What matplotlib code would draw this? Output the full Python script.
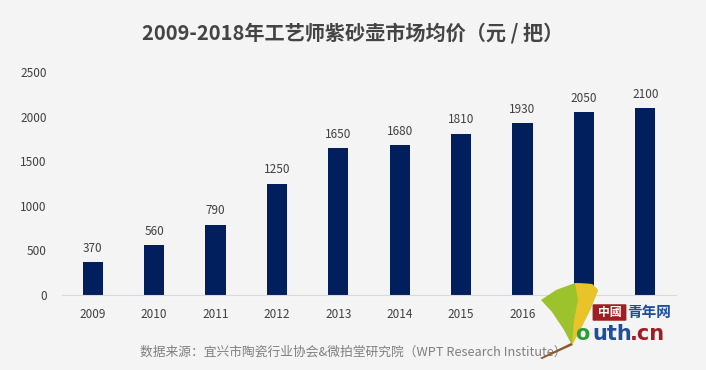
import matplotlib.pyplot as plt
from matplotlib.patches import Polygon, FancyBboxPatch
import numpy as np

plt.rcParams['font.family'] = ['Noto Sans CJK SC', 'DejaVu Sans']

# data
years = ['2009', '2010', '2011', '2012', '2013', '2014', '2015', '2016', '2017', '2018']
prices = [370, 560, 790, 1250, 1650, 1680, 1810, 1930, 2050, 2100]
yticks = [0, 500, 1000, 1500, 2000, 2500]

bg = '#f4f4f4'
navy = '#001f5c'
txt = '#404040'

fig = plt.figure(figsize=(7.06, 3.70), dpi=100, facecolor=bg)
ax = fig.add_axes([62 / 706, 75 / 370, 614 / 706, 223 / 370])
ax.set_facecolor(bg)

x = np.arange(len(years))
ax.bar(x, prices, width=0.33, color=navy, zorder=2)
for xi, v in zip(x, prices):
    ax.text(xi, v + 80, str(v), ha='center', va='bottom', fontsize=8.5, color=txt)

ax.set_xlim(-0.5, len(years) - 0.5)
ax.set_ylim(0, 2500)
ax.set_xticks(x)
ax.set_xticklabels(years, fontsize=8.5, color=txt)
ax.set_yticks(yticks)
ax.set_yticklabels([str(t) for t in yticks], fontsize=8.5, color=txt)
ax.tick_params(length=0, pad=9)
ax.tick_params(axis='y', pad=11)
for s in ['top', 'right', 'left']:
    ax.spines[s].set_visible(False)
ax.spines['bottom'].set_color('#d9d9d9')

fig.text(0.5, 1 - 33 / 370, '2009-2018年工艺师紫砂壶市场均价（元 / 把）',
         ha='center', va='center', fontsize=14.5, color='#444444', fontweight='bold')
fig.text(0.5, 1 - 352 / 370, '数据来源：宜兴市陶瓷行业协会&微拍堂研究院（WPT Research Institute）',
         ha='center', va='center', fontsize=9.2, color='#7f7f7f')

# watermark logo (rough approximation), drawn over the last tick labels like in the source
T = fig.transFigure


def P(px, py):
    return [px / 706, 1 - py / 370]


cover = FancyBboxPatch(P(578, 345), 96 / 706, 43 / 370, boxstyle='square,pad=0',
                       transform=T, facecolor=bg, edgecolor='none', zorder=4)
fig.patches.append(cover)
leaf = Polygon([P(541, 300), P(556, 290), P(575, 283), P(592, 284), P(598, 290),
                P(590, 310), P(580, 330), P(572, 345), P(564, 330), P(552, 312)],
               closed=True, transform=T, facecolor='#9cc22c', edgecolor='none', zorder=5)
fig.patches.append(leaf)
leaf2 = Polygon([P(575, 283), P(592, 284), P(598, 290), P(590, 310), P(580, 330), P(572, 345),
                 P(574, 320), P(578, 300)],
                closed=True, transform=T, facecolor='#e8c42a', edgecolor='none', zorder=5)
fig.patches.append(leaf2)
stem = Polygon([P(571, 343), P(540, 358), P(542, 359), P(573, 345)],
               closed=True, transform=T, facecolor='#8a5a2a', edgecolor='none', zorder=5)
fig.patches.append(stem)
box = FancyBboxPatch(P(594, 320), 31 / 706, 15 / 370,
                     boxstyle='round,pad=0.002', transform=T,
                     facecolor='#a01e22', edgecolor='none', zorder=5)
fig.patches.append(box)
fig.text(609.5 / 706, 1 - 312.5 / 370, '中國', ha='center', va='center', fontsize=8.5,
         color='white', fontweight='bold', zorder=6)
fig.text(627 / 706, 1 - 312 / 370, '青年网', ha='left', va='center', fontsize=10.5,
         color='#1f4e9a', fontweight='bold', zorder=6)
fig.text(575 / 706, 1 - 334 / 370, 'o', ha='left', va='center', fontsize=15,
         color='#2e9a3a', fontweight='bold', family='DejaVu Sans', zorder=6)
fig.text(592 / 706, 1 - 334 / 370, 'uth', ha='left', va='center', fontsize=15,
         color='#1f4e9a', fontweight='bold', family='DejaVu Sans', zorder=6)
fig.text(630 / 706, 1 - 334 / 370, '.cn', ha='left', va='center', fontsize=15,
         color='#a01e22', fontweight='bold', family='DejaVu Sans', zorder=6)

fig.savefig('out.png', dpi=100, facecolor=bg)
